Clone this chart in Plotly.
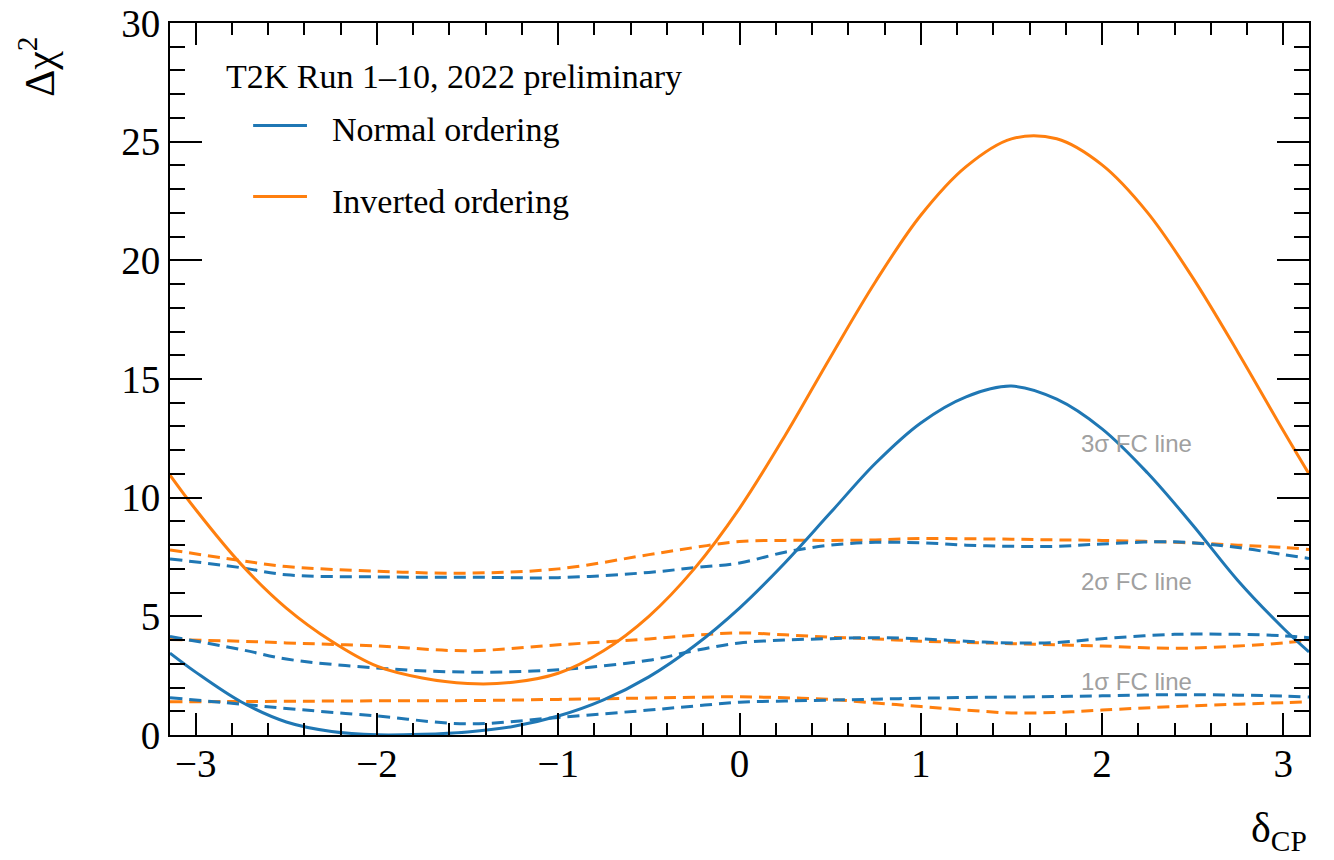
import numpy as np
import plotly.graph_objects as go

PI = np.pi

# Delta chi^2 profiles versus delta_CP
dcp_grid = [-PI, -3.0, -2.75, -2.5, -2.25, -2.0, -1.75, -1.5, -1.25, -1.0, -0.75, -0.5,
            -0.25, 0.0, 0.25, 0.5, 0.75, 1.0, 1.25, 1.5, 1.75, 2.0, 2.25, 2.5,
            2.75, 3.0, PI]
chi2_normal = [3.45, 2.65, 1.4, 0.55, 0.15, 0.01, 0.03, 0.13, 0.36, 0.8, 1.48, 2.45,
               3.75, 5.35, 7.25, 9.35, 11.45, 13.15, 14.25, 14.7, 14.15, 12.9, 11.05, 8.85,
               6.5, 4.5, 3.5]
chi2_inverted = [10.95, 9.5, 7.2, 5.35, 3.95, 2.9, 2.4, 2.17, 2.22, 2.6, 3.55, 5.0,
                 7.0, 9.55, 12.6, 15.9, 19.1, 21.9, 23.95, 25.12, 25.12, 24.02, 22.02, 19.27,
                 16.12, 12.82, 11.0]

# Feldman-Cousins critical values
fc_grid = [-PI, -2.75, -2.5, -2.0, -1.5, -1.0, -0.5, -0.25, 0.0, 0.25, 0.5, 0.75, 1.0,
           1.25, 1.5, 1.75, 2.0, 2.4, 2.75, 3.0, PI]
fc3_inverted = [7.8, 7.35, 7.1, 6.9, 6.82, 7.0, 7.6, 7.9, 8.15, 8.2, 8.2, 8.22, 8.28,
                8.27, 8.25, 8.22, 8.2, 8.12, 8.0, 7.9, 7.82]
fc3_normal = [7.42, 7.05, 6.75, 6.66, 6.65, 6.63, 6.85, 7.05, 7.25, 7.7, 8.0, 8.12, 8.1,
              8.0, 7.95, 7.95, 8.05, 8.14, 7.9, 7.6, 7.44]
fc2_inverted = [4.02, 3.95, 3.88, 3.75, 3.55, 3.8, 4.05, 4.2, 4.3, 4.22, 4.12, 4.05, 3.95,
                3.9, 3.85, 3.8, 3.75, 3.65, 3.75, 3.88, 4.0]
fc2_normal = [4.15, 3.6, 3.2, 2.82, 2.65, 2.75, 3.15, 3.55, 3.88, 4.0, 4.06, 4.1, 4.05,
              3.95, 3.88, 3.9, 4.06, 4.24, 4.24, 4.18, 4.1]
fc1_inverted = [1.4, 1.41, 1.42, 1.44, 1.45, 1.5, 1.56, 1.59, 1.61, 1.57, 1.5, 1.35, 1.2,
                1.05, 0.93, 0.95, 1.05, 1.2, 1.3, 1.36, 1.4]
fc1_normal = [1.57, 1.3, 1.12, 0.8, 0.47, 0.74, 1.05, 1.22, 1.38, 1.43, 1.47, 1.51, 1.55,
              1.58, 1.6, 1.62, 1.65, 1.7, 1.68, 1.64, 1.6]

fc_labels = ["3σ FC line", "2σ FC line", "1σ FC line"]
fc_label_y = [12.3, 6.48, 2.27]

BLUE = "#1f77b4"
ORANGE = "#ff7f0e"
SERIF = "Liberation Serif"

fig = go.Figure()

dash_style = "12px,7px"
for vals, col in [(fc3_inverted, ORANGE), (fc3_normal, BLUE),
                  (fc2_inverted, ORANGE), (fc2_normal, BLUE),
                  (fc1_inverted, ORANGE), (fc1_normal, BLUE)]:
    fig.add_trace(go.Scatter(x=fc_grid, y=vals, mode="lines",
                             line=dict(color=col, width=3, dash=dash_style,
                                       shape="spline", smoothing=1.0),
                             showlegend=False, hoverinfo="skip"))

fig.add_trace(go.Scatter(x=dcp_grid, y=chi2_normal, mode="lines",
                         line=dict(color=BLUE, width=3, shape="spline", smoothing=1.0),
                         showlegend=False))
fig.add_trace(go.Scatter(x=dcp_grid, y=chi2_inverted, mode="lines",
                         line=dict(color=ORANGE, width=3, shape="spline", smoothing=1.0),
                         showlegend=False))

axis_common = dict(
    showline=True, linecolor="black", linewidth=2, mirror="allticks",
    ticks="inside", tickcolor="black", tickwidth=2,
    showgrid=False, zeroline=False, automargin=False,
    tickfont=dict(family=SERIF, size=39, color="black"),
)

fig.update_xaxes(range=[-PI, PI], dtick=1, tick0=0, ticklen=22, ticklabelstandoff=-7,
                 minor=dict(dtick=0.2, tick0=0, ticks="inside", ticklen=12,
                            tickcolor="black", tickwidth=2),
                 **axis_common)
fig.update_yaxes(range=[0, 30], dtick=5, tick0=0, ticklen=32,
                 minor=dict(dtick=1, tick0=0, ticks="inside", ticklen=15,
                            tickcolor="black", tickwidth=2),
                 **axis_common)

annotations = []
for text, yv in zip(fc_labels, fc_label_y):
    annotations.append(dict(x=1.873, y=yv, xref="x", yref="y", text=text,
                            showarrow=False, xanchor="left", yanchor="middle",
                            font=dict(family="Liberation Sans", size=24, color="#a0a0a0")))

# Legend block
annotations.append(dict(x=-2.843, y=27.75, xref="x", yref="y",
                        text="T2K Run 1–10, 2022 preliminary", showarrow=False,
                        xanchor="left", yanchor="middle",
                        font=dict(family=SERIF, size=34, color="black")))
annotations.append(dict(x=-2.259, y=25.5, xref="x", yref="y", text="Normal ordering",
                        showarrow=False, xanchor="left", yanchor="middle",
                        font=dict(family=SERIF, size=34, color="black")))
annotations.append(dict(x=-2.259, y=22.5, xref="x", yref="y", text="Inverted ordering",
                        showarrow=False, xanchor="left", yanchor="middle",
                        font=dict(family=SERIF, size=34, color="black")))

# Axis titles
annotations.append(dict(x=-0.117, y=0.983, xref="paper", yref="paper",
                        text="Δχ<sup>2</sup>", showarrow=False, textangle=-90,
                        xanchor="center", yanchor="top",
                        font=dict(family=SERIF, size=42, color="black")))
annotations.append(dict(x=1.0, y=-0.095, xref="paper", yref="paper",
                        text="δ<sub>CP</sub>", showarrow=False,
                        xanchor="right", yanchor="top",
                        font=dict(family=SERIF, size=42, color="black")))

shapes = [
    dict(type="line", xref="x", yref="y", x0=-2.683, x1=-2.386, y0=25.68, y1=25.68,
         line=dict(color=BLUE, width=3)),
    dict(type="line", xref="x", yref="y", x0=-2.683, x1=-2.386, y0=22.69, y1=22.69,
         line=dict(color=ORANGE, width=3)),
]

fig.update_layout(
    width=1334, height=860,
    margin=dict(l=170, r=25, t=23, b=125, autoexpand=False),
    plot_bgcolor="white", paper_bgcolor="white",
    annotations=annotations, shapes=shapes,
    showlegend=False,
)

fig.write_html("out.html")
